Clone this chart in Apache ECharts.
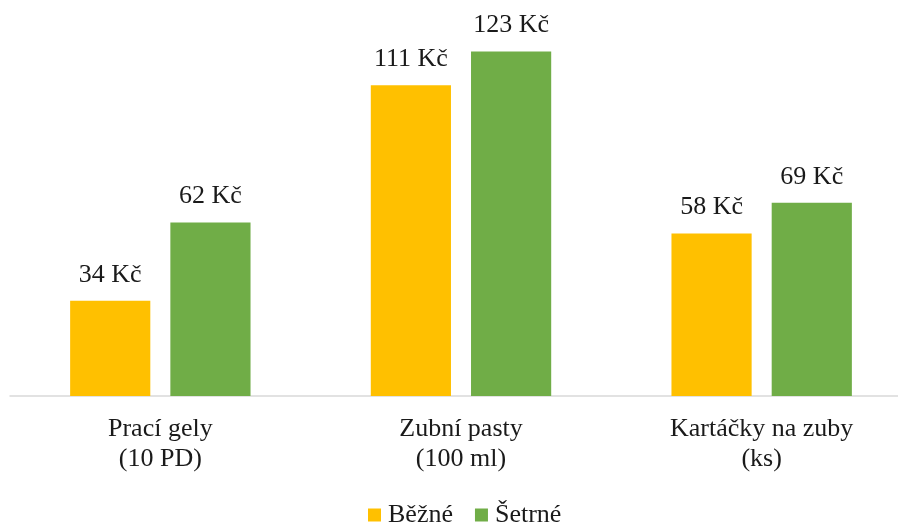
<!DOCTYPE html>
<html><head><meta charset="utf-8">
<script src="https://cdn.jsdelivr.net/npm/echarts@6/dist/echarts.min.js"></script>
<style>html,body{margin:0;padding:0;background:#fff}#c{width:898px;height:522px}</style>
</head><body><div id="c"></div>
<script>
const categories = ['Prací gely\n(10 PD)', 'Zubní pasty\n(100 ml)', 'Kartáčky na zuby\n(ks)'];
const seriesNames = ['Běžné', 'Šetrné'];
const bezne = [34, 111, 58];
const setrne = [62, 123, 69];
const colors = ['#FFC000', '#70AD47'];
const FONT = '"Liberation Serif", "Times New Roman", serif';
const chart = echarts.init(document.getElementById('c'), null, {renderer: 'canvas'});
const lbl = {show: true, position: 'top', distance: 13, color: '#1a1a1a', fontFamily: FONT, fontSize: 26,
  formatter: p => p.value + ' Kč'};
chart.setOption({
  animation: false,
  grid: {left: 10, width: 902, top: 4, bottom: 126, containLabel: false, outerBoundsMode: 'none'},
  legend: {top: 497, left: 363, itemWidth: 13, itemHeight: 13, itemGap: 22, icon: 'rect',
    textStyle: {fontFamily: FONT, fontSize: 26, color: '#1a1a1a', padding: [0, 0, 0, 2]},
    data: seriesNames},
  xAxis: {type: 'category', data: categories,
    axisLine: {lineStyle: {color: '#D9D9D9', width: 1.5}}, axisTick: {show: false},
    axisLabel: {fontFamily: FONT, fontSize: 26, color: '#1a1a1a', lineHeight: 30, margin: 18}},
  yAxis: {type: 'value', min: 0, max: 140, show: false, splitLine: {show: false}},
  series: [
    {name: seriesNames[0], type: 'bar', data: bezne, itemStyle: {color: colors[0]}, barGap: '25%', barCategoryGap: '40%', label: lbl},
    {name: seriesNames[1], type: 'bar', data: setrne, itemStyle: {color: colors[1]}, barGap: '25%', barCategoryGap: '40%', label: lbl}
  ]
});
</script></body></html>
